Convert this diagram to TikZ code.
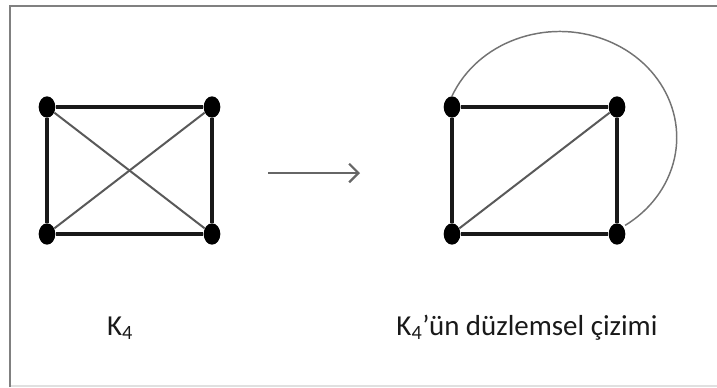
\documentclass[tikz,border=0pt]{standalone}
\usepackage{fontspec}
\setmainfont{Carlito}
\usetikzlibrary{shapes.geometric,arrows.meta}

\begin{document}
\begin{tikzpicture}[x=0.75pt,y=-0.75pt,
      vtx/.style={ellipse,fill=black,minimum width=12.5pt,minimum height=16pt,inner sep=0pt},
      rim/.style={line width=2.5pt,black!90},
      cross/.style={line width=1.5pt,black!65},
      lbl/.style={font=\fontsize{21.7}{26}\selectfont,text=black!90}]
    \useasboundingbox (0,0) rectangle (717,387);
    % frame
    \draw[line width=0.8pt,black!12] (10,386) -- (717,386);
    \draw[line width=2.2pt,black!50] (10,387) -- (10,6) -- (717,6);
    % vertices of both drawings
    \foreach \i/\x/\y in {1/47/107,2/212/107,3/47/234,4/212/234} {
      \node[vtx] (l\i) at (\x,\y) {};
      \node[vtx] (r\i) at (\x+405,\y) {};
    }
    \foreach \a/\b in {1/2,2/4,4/3,3/1} {
      \draw[rim] (l\a) -- (l\b);
      \draw[rim] (r\a) -- (r\b);
    }
    \draw[cross] (l1) -- (l4);
    \draw[cross] (l2) -- (l3);
    \draw[cross] (r3) -- (r2);
    \draw[line width=1.1pt,black!55] (r1.north) arc[start angle=203,end angle=416,x radius=117,y radius=106];
    % arrow
    \coordinate (a1) at (268,173);
    \coordinate (a2) at (360,173);
    \draw[line width=1.6pt,black!60,-{Straight Barb[length=7pt,width=14pt]}] (a1) -- (a2);
    % labels
    \node[lbl] (k4) at (120,328) {K\textsubscript{4}};
    \node[lbl] (k4p) at (527,328) {K\textsubscript{4}’ün düzlemsel çizimi};
  \end{tikzpicture}
\end{document}
